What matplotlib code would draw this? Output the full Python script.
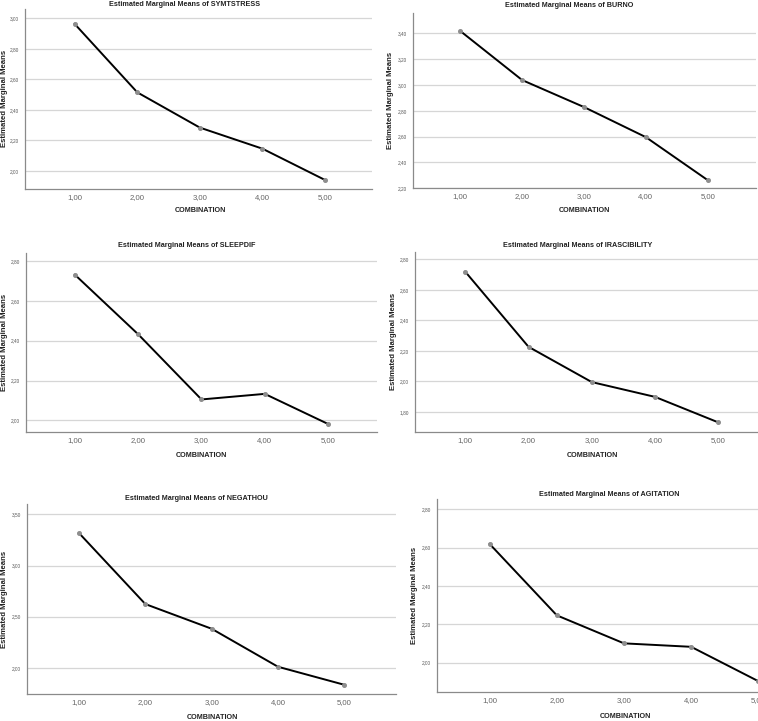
import matplotlib
matplotlib.use("Agg")
import matplotlib.pyplot as plt
from matplotlib.ticker import FuncFormatter, MultipleLocator

plt.rcParams['font.family'] = ['Liberation Sans', 'DejaVu Sans']

combination = [1, 2, 3, 4, 5]
x_tick_labels = ["1,00", "2,00", "3,00", "4,00", "5,00"]
variables = ["SYMTSTRESS", "BURNO", "SLEEPDIF", "IRASCIBILITY", "NEGATHOU", "AGITATION"]
symtstress = [2.963, 2.515, 2.284, 2.146, 1.941]
burno = [3.418, 3.038, 2.829, 2.596, 2.263]
sleepdif = [2.731, 2.432, 2.105, 2.133, 1.982]
irascibility = [2.719, 2.227, 1.996, 1.899, 1.732]
negathou = [3.317, 2.624, 2.383, 2.012, 1.836]
agitation = [2.619, 2.247, 2.101, 2.083, 1.904]
series = [symtstress, burno, sleepdif, irascibility, negathou, agitation]

W, H = 758, 721
fig = plt.figure(figsize=(W / 100, H / 100), dpi=100)
fig.patch.set_facecolor('white')

# layout in pixels: (left, top, right, bottom), xlim, ylim, ystep
layouts = [
    dict(box=(25, 9.3, 372, 189), xlim=(0.206, 5.75), ylim=(1.882, 3.059), step=0.2,
         title=(184.5, 4.5), ylab=(4.5, 98.7), xlab=(200, 210.7)),
    dict(box=(413, 13.3, 756, 188.3), xlim=(0.236, 5.78), ylim=(2.20, 3.555), step=0.2,
         title=(569.3, 5.7), ylab=(390.7, 100), xlab=(584.7, 210.7)),
    dict(box=(26, 253.3, 376.7, 432.3), xlim=(0.226, 5.77), ylim=(1.94, 2.839), step=0.2,
         title=(186.8, 245.7), ylab=(4.5, 342.5), xlab=(201.7, 455.3)),
    dict(box=(415.3, 251.7, 767, 431.7), xlim=(0.21, 5.77), ylim=(1.671, 2.85), step=0.2,
         title=(577.5, 245), ylab=(393.7, 341), xlab=(592.8, 455)),
    dict(box=(27.3, 504.3, 396, 694), xlim=(0.22, 5.78), ylim=(1.746, 3.598), step=0.5,
         title=(196.3, 499), ylab=(4.5, 599.7), xlab=(212, 717.3)),
    dict(box=(437.3, 499.3, 810, 691.7), xlim=(0.22, 5.77), ylim=(1.849, 2.852), step=0.2,
         title=(608.8, 494), ylab=(414.7, 595.8), xlab=(625.7, 716)),
]

fmt = FuncFormatter(lambda v, p: f"{v:.2f}".replace(".", ","))

for name, vals, lay in zip(variables, series, layouts):
    l, t, r, b = lay['box']
    ax = fig.add_axes([l / W, 1 - b / H, (r - l) / W, (b - t) / H])
    ax.set_facecolor('white')
    ax.plot(combination, vals, color='black', lw=1.4, zorder=3, solid_joinstyle='miter')
    ax.plot(combination, vals, linestyle='none', marker='o', ms=2.6,
            mfc='#8e8e8e', mec='#8e8e8e', zorder=4)
    ax.set_xlim(*lay['xlim'])
    ax.set_ylim(*lay['ylim'])
    ax.set_xticks(combination)
    ax.set_xticklabels(x_tick_labels)
    ax.yaxis.set_major_locator(MultipleLocator(lay['step']))
    ax.yaxis.set_major_formatter(fmt)
    ax.grid(axis='y', color='#d6d6d6', lw=0.9, zorder=0)
    ax.set_axisbelow(True)
    for s in ['top', 'right']:
        ax.spines[s].set_visible(False)
    for s in ['left', 'bottom']:
        ax.spines[s].set_color('#8a8a8a')
        ax.spines[s].set_linewidth(0.9)
    ax.tick_params(axis='x', length=0, pad=3.5, labelsize=5.6, labelcolor='#666666')
    ax.tick_params(axis='y', length=0, pad=4.5, labelsize=3.4, labelcolor='#555555')

    tx, ty = lay['title']
    fig.text(tx / W, 1 - ty / H, f"Estimated Marginal Means of {name}",
             ha='center', va='center', fontsize=5.2, fontweight='bold', color='#222222')
    yx, yy = lay['ylab']
    fig.text(yx / W, 1 - yy / H, "Estimated Marginal Means", rotation=90,
             ha='center', va='center', fontsize=5.6, fontweight='bold', color='#222222')
    xx, xy = lay['xlab']
    fig.text(xx / W, 1 - xy / H, "COMBINATION",
             ha='center', va='center', fontsize=5.2, fontweight='bold', color='#222222')

fig.savefig("out.png", dpi=100, facecolor='white')
